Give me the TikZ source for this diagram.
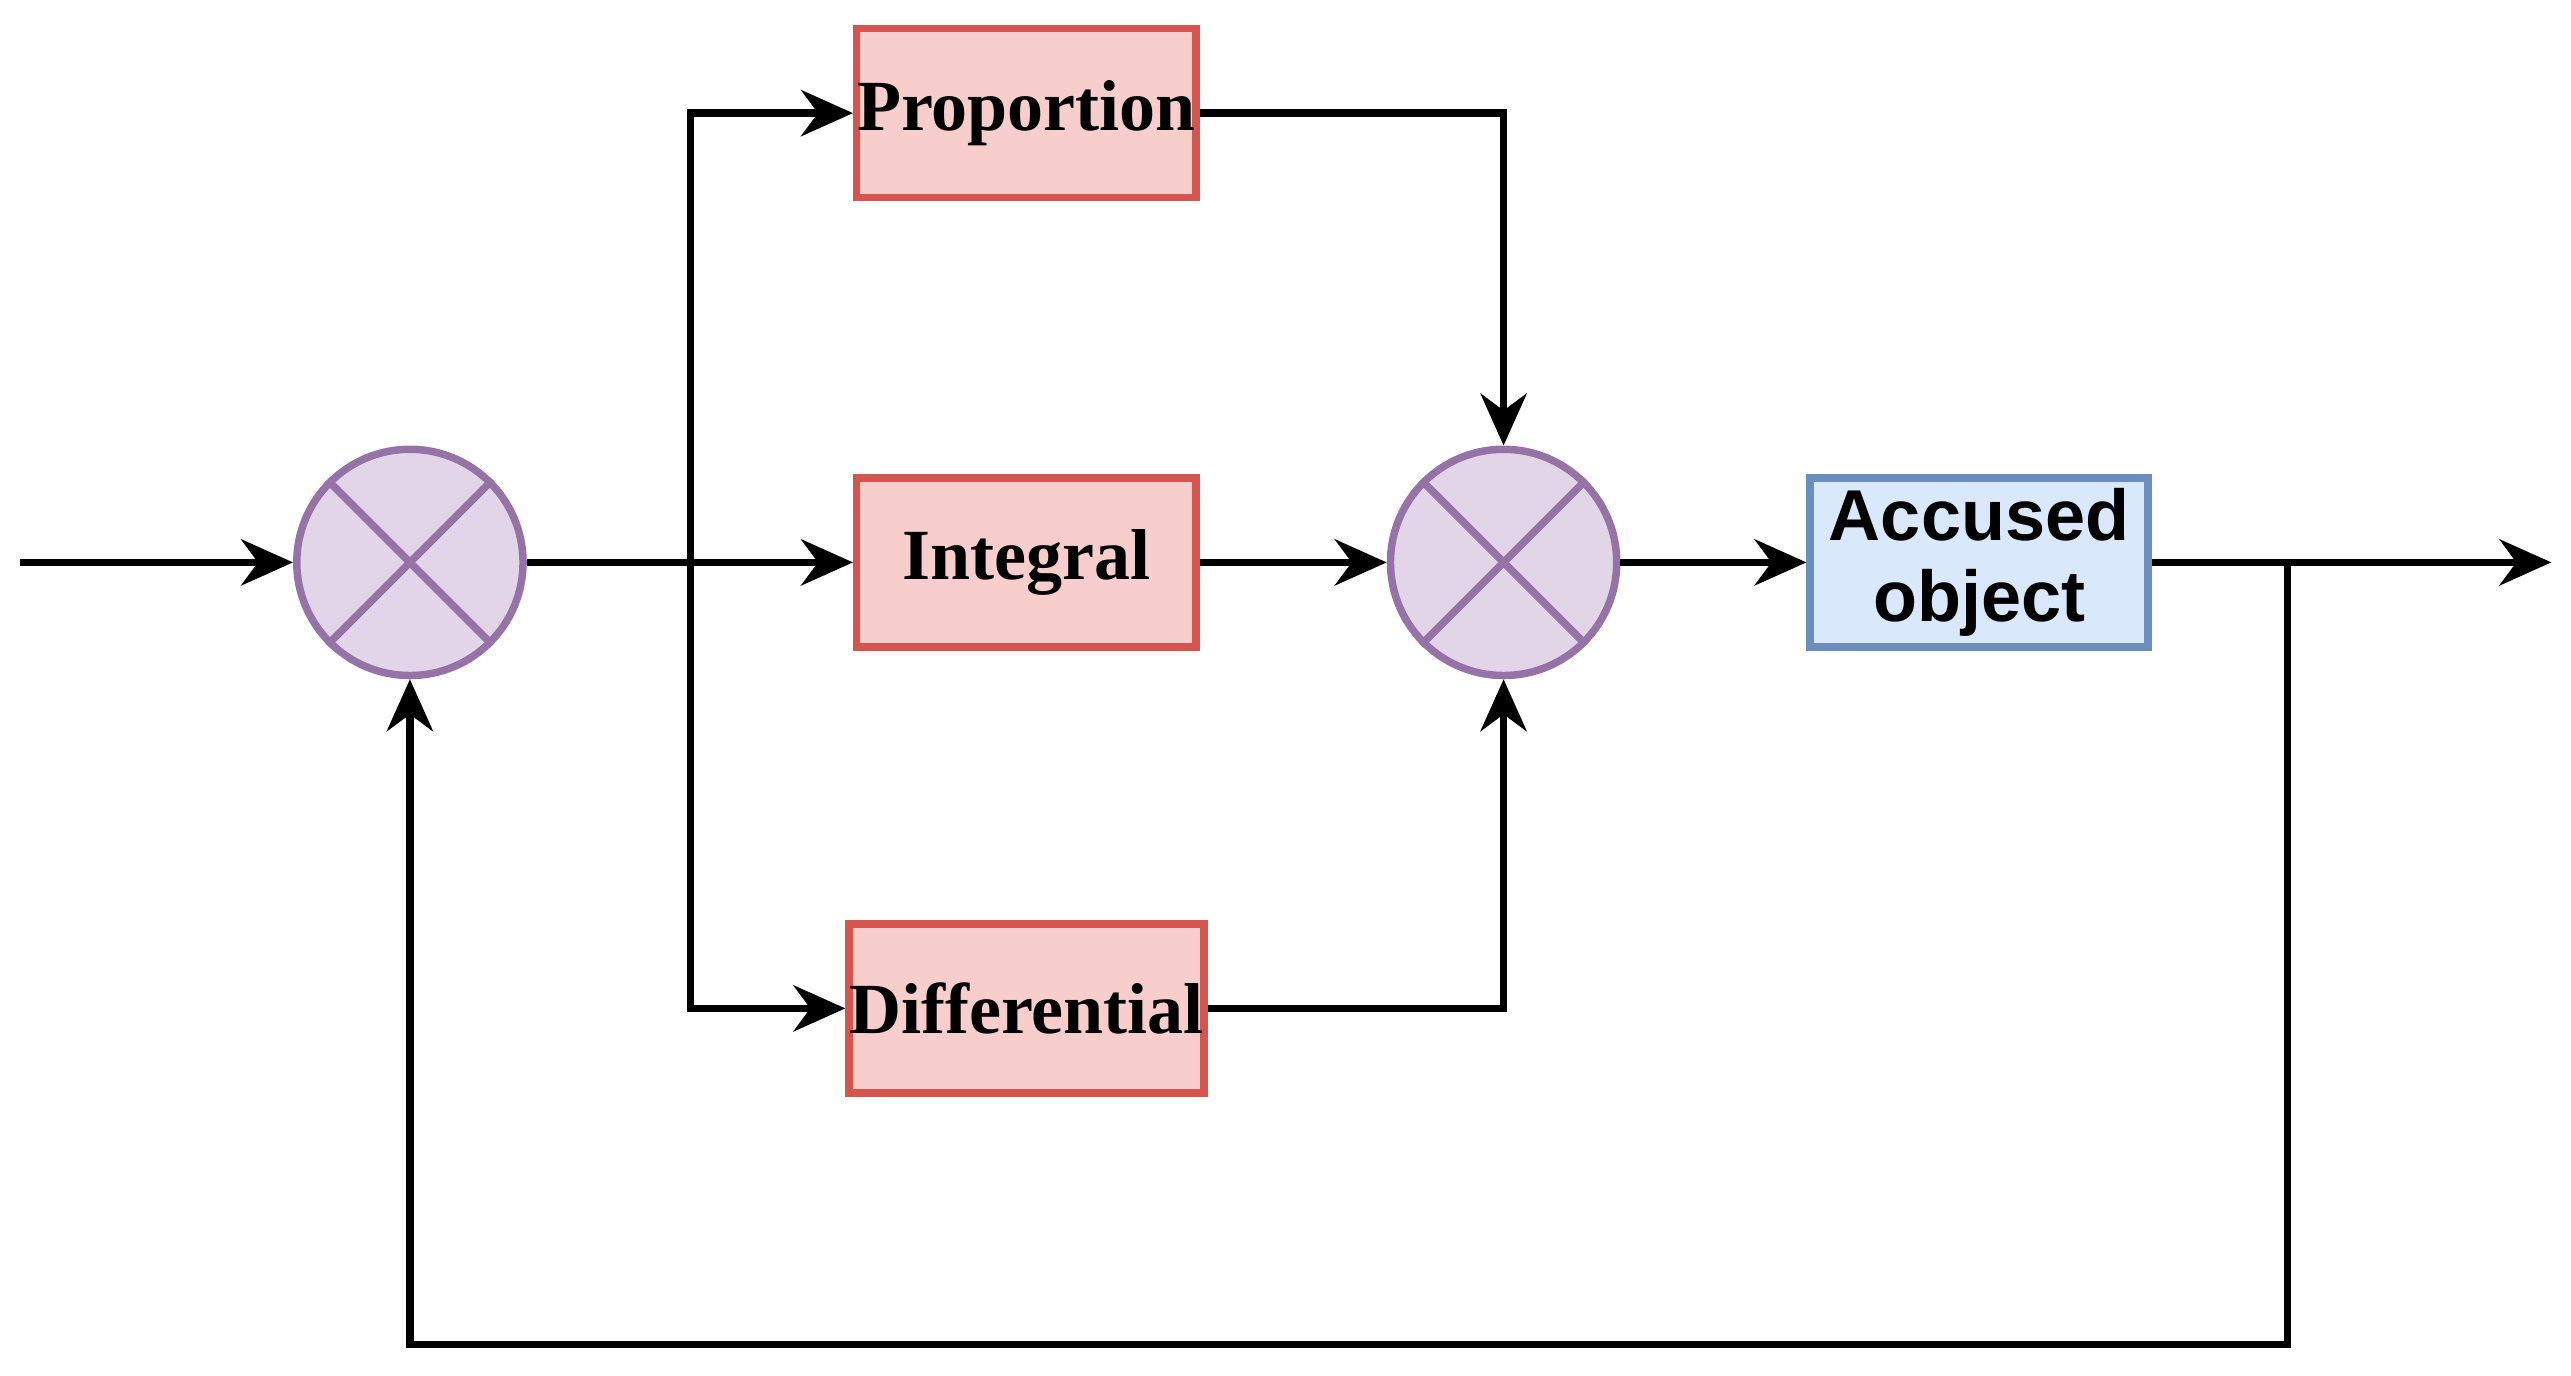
\documentclass[tikz,border=0pt]{standalone}
\usepackage{fontspec}
\setmainfont{Liberation Serif}
\newfontfamily\sansbold{Liberation Sans}
\usetikzlibrary{positioning,arrows.meta}
\definecolor{pidfill}{RGB}{248,206,204}
\definecolor{piddraw}{RGB}{214,84,78}
\definecolor{objfill}{RGB}{218,232,252}
\definecolor{objdraw}{RGB}{108,142,191}
\definecolor{sumfill}{RGB}{225,213,231}
\definecolor{sumdraw}{RGB}{150,115,166}
\begin{document}
\begin{tikzpicture}[x=1cm,y=1cm]
\tikzstyle{block}=[draw=piddraw,fill=pidfill,line width=1.3pt,minimum width=2.07cm,minimum height=1.03cm,inner sep=0pt,font=\fontsize{12.5}{14}\selectfont\bfseries]
\tikzstyle{plant}=[draw=objdraw,fill=objfill,line width=1.3pt,minimum width=2.06cm,minimum height=1.03cm,inner sep=0pt,align=center,font=\sansbold\fontsize{12.5}{14}\selectfont\bfseries]
\tikzstyle{sum}=[circle,draw=sumdraw,fill=sumfill,line width=1.3pt,minimum size=1.38cm,inner sep=0pt]
\tikzstyle{link}=[line width=1.3pt,-{Stealth[length=9pt,width=8pt]}]
\useasboundingbox (0,0) rectangle (15.68,-8.386);

% ========= nodes
\node (sum1) [sum] at (2.50,-3.43) {};
\node (sum2) [sum] at (9.17,-3.43) {};
\foreach \s in {sum1,sum2}
{
  \draw [sumdraw,line width=1.3pt] (\s.north east) -- (\s.south west);
  \draw [sumdraw,line width=1.3pt] (\s.north west) -- (\s.south east);
}
\node (prop) [block] at (6.26,-0.69) {Proportion};
\node (inte) [block] at (6.26,-3.43) {Integral};
\node (diff) [block] at (6.26,-6.15) {Differential};
\node (obj) [plant] at (12.07,-3.43) {Accused\\object};

\coordinate (in) at (0.12,-3.43);
\coordinate (out) at (15.56,-3.43);
\coordinate (split) at (4.21,-3.43);
\coordinate (tap) at (13.95,-3.43);

% ====== connections
\draw [link] (in) -- (sum1);
\draw [line width=1.3pt] (sum1) -- (split);
\draw [link] (split) -- (inte);
\draw [link] (split) |- (prop);
\draw [link] (split) |- (diff);
\draw [link] (prop) -| (sum2);
\draw [link] (diff) -| (sum2);
\draw [link] (inte) -- (sum2);
\draw [link] (sum2) -- (obj);
\draw [link] (obj) -- (out);
\draw [link] (tap) -- ++(0,-4.77) -| (sum1);
\end{tikzpicture}
\end{document}
